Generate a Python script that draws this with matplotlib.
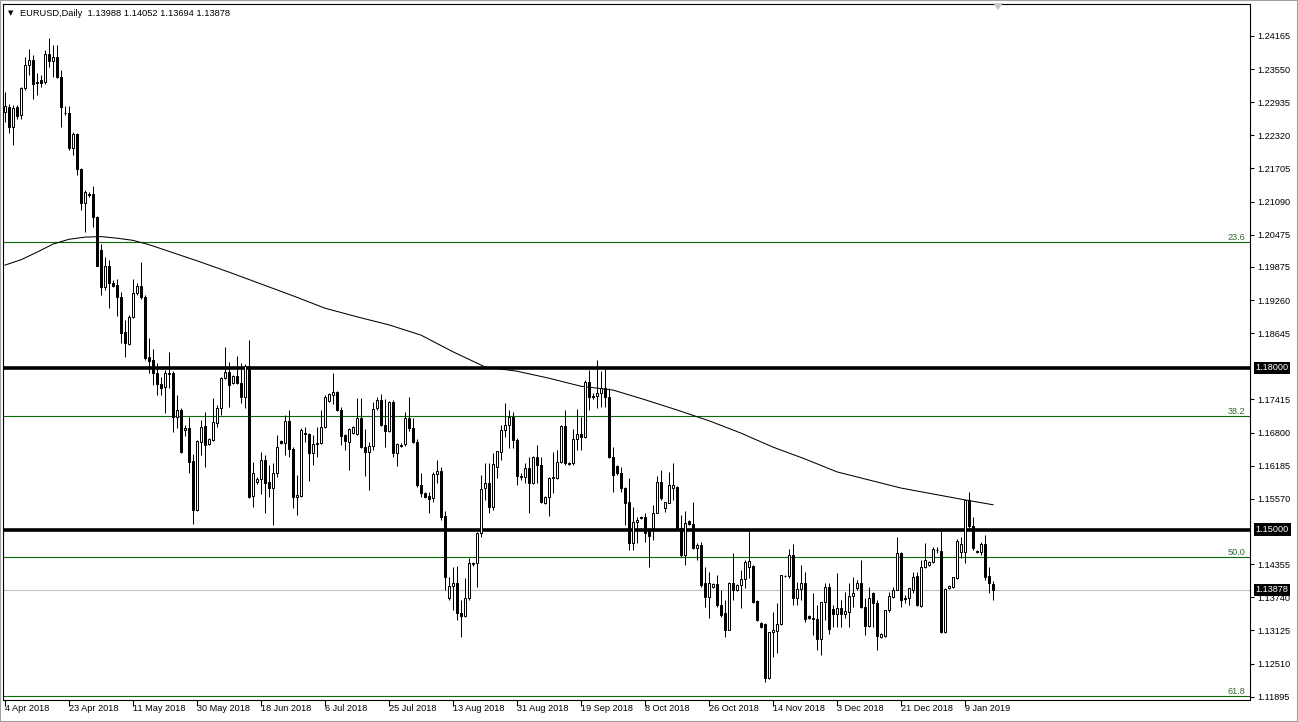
import numpy as np
import matplotlib
matplotlib.use('Agg')
import matplotlib.pyplot as plt
from matplotlib.patches import Polygon, Rectangle

plt.rcParams['font.family'] = ['Liberation Sans', 'DejaVu Sans']

# daily EURUSD candles, 4 Apr 2018 .. 17 Jan 2019 (broker with Sunday bars)
opens = [
    1.2276, 1.2285, 1.2247, 1.2284, 1.2269, 1.2319, 1.2362, 1.2372, 1.2331, 1.2334,
    1.2331, 1.2383, 1.2370, 1.2377, 1.2341, 1.2274, 1.2273, 1.2208, 1.2235, 1.2169,
    1.2107, 1.2123, 1.2123, 1.2081, 1.2019, 1.1950, 1.1989, 1.1957, 1.1954, 1.1932,
    1.1867, 1.1844, 1.1895, 1.1940, 1.1952, 1.1932, 1.1821, 1.1815, 1.1791, 1.1771,
    1.1764, 1.1788, 1.1790, 1.1709, 1.1722, 1.1685, 1.1688, 1.1627, 1.1536, 1.1662,
    1.1692, 1.1659, 1.1666, 1.1698, 1.1725, 1.1781, 1.1792, 1.1772, 1.1785, 1.1772,
    1.1746, 1.1803, 1.1562, 1.1588, 1.1594, 1.1629, 1.1588, 1.1577, 1.1605, 1.1664,
    1.1660, 1.1701, 1.1649, 1.1560, 1.1562, 1.1679, 1.1677, 1.1642, 1.1659, 1.1660,
    1.1690, 1.1739, 1.1750, 1.1755, 1.1722, 1.1675, 1.1662, 1.1679, 1.1677, 1.1707,
    1.1653, 1.1644, 1.1655, 1.1725, 1.1740, 1.1694, 1.1683, 1.1737, 1.1642, 1.1655,
    1.1659, 1.1707, 1.1688, 1.1662, 1.1583, 1.1568, 1.1562, 1.1558, 1.1603, 1.1609,
    1.1525, 1.1373, 1.1395, 1.1401, 1.1345, 1.1339, 1.1373, 1.1436, 1.1438, 1.1493,
    1.1577, 1.1586, 1.1542, 1.1616, 1.1644, 1.1685, 1.1694, 1.1709, 1.1666, 1.1599,
    1.1598, 1.1614, 1.1586, 1.1635, 1.1620, 1.1549, 1.1560, 1.1596, 1.1596, 1.1625,
    1.1692, 1.1623, 1.1623, 1.1668, 1.1677, 1.1672, 1.1774, 1.1748, 1.1748, 1.1753,
    1.1763, 1.1746, 1.1635, 1.1618, 1.1605, 1.1577, 1.1551, 1.1475, 1.1514, 1.1523,
    1.1523, 1.1497, 1.1503, 1.1530, 1.1588, 1.1540, 1.1549, 1.1577, 1.1579, 1.1503,
    1.1453, 1.1516, 1.1510, 1.1466, 1.1471, 1.1401, 1.1375, 1.1393, 1.1399, 1.1360,
    1.1345, 1.1313, 1.1401, 1.1388, 1.1397, 1.1408, 1.1431, 1.1432, 1.1367, 1.1326,
    1.1324, 1.1224, 1.1310, 1.1311, 1.1324, 1.1414, 1.1414, 1.1453, 1.1373, 1.1390,
    1.1401, 1.1339, 1.1336, 1.1334, 1.1297, 1.1365, 1.1393, 1.1352, 1.1343, 1.1354,
    1.1343, 1.1347, 1.1376, 1.1391, 1.1401, 1.1356, 1.1321, 1.1382, 1.1363, 1.1300,
    1.1302, 1.1350, 1.1375, 1.1388, 1.1456, 1.1373, 1.1373, 1.1388, 1.1414, 1.1358,
    1.1430, 1.1434, 1.1440, 1.1462, 1.1460, 1.1310, 1.1391, 1.1393, 1.1410, 1.1458,
    1.1458, 1.1555, 1.1506, 1.1460, 1.1458, 1.1473, 1.1414, 1.13988,
]
highs = [
    1.2313, 1.2290, 1.2288, 1.2288, 1.2322, 1.2378, 1.2393, 1.2381, 1.2347, 1.2344,
    1.2390, 1.2412, 1.2399, 1.2399, 1.2353, 1.2286, 1.2286, 1.2238, 1.2237, 1.2171,
    1.2131, 1.2127, 1.2138, 1.2082, 1.2031, 1.2006, 1.2000, 1.1963, 1.1966, 1.1941,
    1.1889, 1.1898, 1.1966, 1.1957, 1.1997, 1.1935, 1.1855, 1.1836, 1.1809, 1.1784,
    1.1796, 1.1830, 1.1795, 1.1750, 1.1725, 1.1694, 1.1709, 1.1640, 1.1666, 1.1703,
    1.1718, 1.1670, 1.1744, 1.1731, 1.1783, 1.1839, 1.1811, 1.1787, 1.1822, 1.1809,
    1.1807, 1.1852, 1.1625, 1.1597, 1.1644, 1.1638, 1.1620, 1.1623, 1.1675, 1.1666,
    1.1712, 1.1722, 1.1653, 1.1601, 1.1688, 1.1690, 1.1679, 1.1675, 1.1690, 1.1722,
    1.1750, 1.1753, 1.1790, 1.1757, 1.1727, 1.1677, 1.1688, 1.1692, 1.1744, 1.1744,
    1.1686, 1.1662, 1.1737, 1.1746, 1.1752, 1.1742, 1.1738, 1.1740, 1.1660, 1.1660,
    1.1718, 1.1746, 1.1707, 1.1668, 1.1605, 1.1570, 1.1570, 1.1607, 1.1629, 1.1616,
    1.1534, 1.1412, 1.1430, 1.1432, 1.1369, 1.1410, 1.1447, 1.1440, 1.1495, 1.1601,
    1.1623, 1.1623, 1.1642, 1.1646, 1.1694, 1.1735, 1.1722, 1.1718, 1.1670, 1.1605,
    1.1623, 1.1635, 1.1636, 1.1657, 1.1635, 1.1562, 1.1597, 1.1644, 1.1648, 1.1694,
    1.1722, 1.1625, 1.1686, 1.1724, 1.1709, 1.1778, 1.1796, 1.1753, 1.1815, 1.1794,
    1.1800, 1.1763, 1.1653, 1.1620, 1.1616, 1.1579, 1.1596, 1.1542, 1.1523, 1.1525,
    1.1531, 1.1503, 1.1545, 1.1599, 1.1610, 1.1551, 1.1607, 1.1623, 1.1581, 1.1527,
    1.1534, 1.1518, 1.1551, 1.1475, 1.1477, 1.1430, 1.1421, 1.1401, 1.1415, 1.1388,
    1.1369, 1.1403, 1.1456, 1.1399, 1.1425, 1.1443, 1.1499, 1.1434, 1.1369, 1.1328,
    1.1326, 1.1310, 1.1347, 1.1363, 1.1416, 1.1416, 1.1464, 1.1473, 1.1403, 1.1434,
    1.1421, 1.1341, 1.1382, 1.1360, 1.1365, 1.1401, 1.1401, 1.1360, 1.1419, 1.1369,
    1.1384, 1.1401, 1.1412, 1.1406, 1.1443, 1.1373, 1.1393, 1.1384, 1.1369, 1.1308,
    1.1350, 1.1384, 1.1393, 1.1486, 1.1458, 1.1378, 1.1391, 1.1421, 1.1421, 1.1443,
    1.1475, 1.1441, 1.1467, 1.1467, 1.1499, 1.1391, 1.1397, 1.1412, 1.1482, 1.1486,
    1.1555, 1.1570, 1.1523, 1.1462, 1.1477, 1.1490, 1.1430, 1.14052,
]
lows = [
    1.2257, 1.2236, 1.2214, 1.2263, 1.2262, 1.2316, 1.2344, 1.2299, 1.2307, 1.2322,
    1.2328, 1.2359, 1.2341, 1.2338, 1.2248, 1.2269, 1.2204, 1.2195, 1.2158, 1.2093,
    1.2053, 1.2118, 1.2062, 1.1989, 1.1935, 1.1945, 1.1911, 1.1951, 1.1896, 1.1846,
    1.1821, 1.1842, 1.1892, 1.1935, 1.1929, 1.1815, 1.1790, 1.1768, 1.1750, 1.1750,
    1.1716, 1.1763, 1.1681, 1.1688, 1.1642, 1.1674, 1.1605, 1.1510, 1.1534, 1.1638,
    1.1616, 1.1657, 1.1664, 1.1690, 1.1712, 1.1779, 1.1727, 1.1770, 1.1770, 1.1735,
    1.1725, 1.1558, 1.1542, 1.1584, 1.1566, 1.1530, 1.1560, 1.1508, 1.1597, 1.1659,
    1.1638, 1.1634, 1.1540, 1.1527, 1.1560, 1.1662, 1.1590, 1.1620, 1.1634, 1.1659,
    1.1688, 1.1737, 1.1733, 1.1720, 1.1657, 1.1648, 1.1610, 1.1677, 1.1675, 1.1651,
    1.1599, 1.1573, 1.1648, 1.1722, 1.1692, 1.1653, 1.1681, 1.1634, 1.1618, 1.1653,
    1.1655, 1.1683, 1.1660, 1.1579, 1.1560, 1.1558, 1.1530, 1.1551, 1.1586, 1.1518,
    1.1387, 1.1369, 1.1350, 1.1332, 1.1300, 1.1337, 1.1369, 1.1432, 1.1393, 1.1486,
    1.1555, 1.1530, 1.1536, 1.1596, 1.1629, 1.1672, 1.1651, 1.1651, 1.1583, 1.1592,
    1.1586, 1.1530, 1.1584, 1.1586, 1.1549, 1.1547, 1.1525, 1.1568, 1.1594, 1.1623,
    1.1620, 1.1619, 1.1620, 1.1648, 1.1648, 1.1670, 1.1722, 1.1742, 1.1725, 1.1727,
    1.1727, 1.1633, 1.1570, 1.1601, 1.1570, 1.1508, 1.1462, 1.1462, 1.1475, 1.1519,
    1.1477, 1.1430, 1.1480, 1.1530, 1.1555, 1.1532, 1.1549, 1.1555, 1.1503, 1.1449,
    1.1434, 1.1508, 1.1464, 1.1443, 1.1393, 1.1356, 1.1336, 1.1391, 1.1356, 1.1337,
    1.1300, 1.1313, 1.1369, 1.1386, 1.1354, 1.1391, 1.1410, 1.1364, 1.1330, 1.1317,
    1.1217, 1.1222, 1.1263, 1.1271, 1.1322, 1.1412, 1.1410, 1.1360, 1.1360, 1.1369,
    1.1328, 1.1334, 1.1304, 1.1276, 1.1267, 1.1332, 1.1306, 1.1319, 1.1319, 1.1319,
    1.1336, 1.1319, 1.1356, 1.1388, 1.1354, 1.1304, 1.1319, 1.1319, 1.1276, 1.1298,
    1.1300, 1.1347, 1.1373, 1.1388, 1.1356, 1.1363, 1.1360, 1.1382, 1.1358, 1.1356,
    1.1428, 1.1432, 1.1438, 1.1456, 1.1308, 1.1308, 1.1389, 1.1391, 1.1408, 1.1447,
    1.1438, 1.1501, 1.1462, 1.1456, 1.1453, 1.1406, 1.1382, 1.13694,
]
closes = [
    1.2286, 1.2248, 1.2282, 1.2268, 1.2319, 1.2362, 1.2372, 1.2328, 1.2329, 1.2330,
    1.2383, 1.2370, 1.2377, 1.2341, 1.2285, 1.2273, 1.2208, 1.2235, 1.2169, 1.2107,
    1.2127, 1.2122, 1.2081, 1.1990, 1.1950, 1.1989, 1.1957, 1.1953, 1.1932, 1.1865,
    1.1846, 1.1895, 1.1940, 1.1952, 1.1932, 1.1818, 1.1813, 1.1790, 1.1770, 1.1762,
    1.1791, 1.1791, 1.1709, 1.1722, 1.1644, 1.1688, 1.1625, 1.1536, 1.1664, 1.1690,
    1.1657, 1.1668, 1.1699, 1.1725, 1.1781, 1.1792, 1.1768, 1.1785, 1.1772, 1.1746,
    1.1803, 1.1560, 1.1605, 1.1594, 1.1629, 1.1586, 1.1577, 1.1605, 1.1653, 1.1660,
    1.1701, 1.1649, 1.1560, 1.1564, 1.1685, 1.1677, 1.1642, 1.1659, 1.1660, 1.1690,
    1.1746, 1.1752, 1.1755, 1.1722, 1.1674, 1.1664, 1.1686, 1.1690, 1.1707, 1.1653,
    1.1644, 1.1655, 1.1724, 1.1740, 1.1694, 1.1683, 1.1737, 1.1642, 1.1659, 1.1657,
    1.1707, 1.1688, 1.1662, 1.1583, 1.1568, 1.1560, 1.1557, 1.1603, 1.1609, 1.1523,
    1.1412, 1.1395, 1.1401, 1.1345, 1.1339, 1.1373, 1.1438, 1.1438, 1.1493, 1.1575,
    1.1586, 1.1542, 1.1622, 1.1646, 1.1685, 1.1694, 1.1709, 1.1666, 1.1599, 1.1598,
    1.1614, 1.1586, 1.1635, 1.1620, 1.1551, 1.1560, 1.1596, 1.1598, 1.1625, 1.1692,
    1.1623, 1.1621, 1.1668, 1.1677, 1.1672, 1.1774, 1.1746, 1.1746, 1.1753, 1.1763,
    1.1746, 1.1635, 1.1601, 1.1605, 1.1577, 1.1549, 1.1475, 1.1514, 1.1518, 1.1521,
    1.1493, 1.1488, 1.1530, 1.1588, 1.1558, 1.1551, 1.1583, 1.1583, 1.1503, 1.1453,
    1.1512, 1.1510, 1.1466, 1.1471, 1.1397, 1.1375, 1.1401, 1.1399, 1.1360, 1.1341,
    1.1313, 1.1401, 1.1388, 1.1397, 1.1408, 1.1440, 1.1442, 1.1365, 1.1332, 1.1319,
    1.1224, 1.1310, 1.1313, 1.1324, 1.1416, 1.1414, 1.1453, 1.1373, 1.1390, 1.1401,
    1.1334, 1.1336, 1.1334, 1.1297, 1.1365, 1.1393, 1.1315, 1.1343, 1.1354, 1.1343,
    1.1349, 1.1376, 1.1382, 1.1401, 1.1356, 1.1321, 1.1373, 1.1363, 1.1302, 1.1306,
    1.1350, 1.1376, 1.1388, 1.1456, 1.1369, 1.1371, 1.1391, 1.1412, 1.1360, 1.1430,
    1.1443, 1.1440, 1.1464, 1.1462, 1.1310, 1.1390, 1.1395, 1.1412, 1.1479, 1.1473,
    1.1555, 1.1506, 1.1466, 1.1458, 1.1473, 1.1412, 1.1401, 1.13878,
]

# moving average at a few bars
ma_bars = [0, 4, 8, 12, 16, 20, 24, 28, 32, 36, 40, 48, 56, 64, 72, 80, 88, 96, 104,
           112, 120, 128, 136, 144, 152, 160, 168, 176, 184, 192, 200, 208, 216, 224,
           232, 240, 247]
ma_vals = [1.1991, 1.2001, 1.2015, 1.2030, 1.2039, 1.2043, 1.2044, 1.2041, 1.2037,
           1.2029, 1.2019, 1.1999, 1.1978, 1.1956, 1.1934, 1.1911, 1.1895, 1.1880,
           1.1861, 1.1830, 1.1802, 1.1794, 1.1781, 1.1766, 1.1759, 1.1741, 1.1722,
           1.1702, 1.1679, 1.1653, 1.1631, 1.1607, 1.1592, 1.1577, 1.1566, 1.1555,
           1.1546]

levels = [1.18000, 1.15000]
fib_levels = [1.2033, 1.1710, 1.1449, 1.1190]
fib_names = ['23.6', '38.2', '50.0', '61.8']

date_labels = ['4 Apr 2018', '23 Apr 2018', '11 May 2018', '30 May 2018', '18 Jun 2018',
               '6 Jul 2018', '25 Jul 2018', '13 Aug 2018', '31 Aug 2018', '19 Sep 2018',
               '8 Oct 2018', '26 Oct 2018', '14 Nov 2018', '3 Dec 2018', '21 Dec 2018',
               '9 Jan 2019']
price_ticks = [1.24165, 1.23550, 1.22935, 1.22320, 1.21705, 1.21090, 1.20475,
               1.19875, 1.19260, 1.18645, 1.17415, 1.16800, 1.16185,
               1.15570, 1.14355, 1.13740, 1.13125, 1.12510, 1.11895]

o = np.array(opens)
h = np.array(highs)
l = np.array(lows)
c = np.array(closes)
idx = np.arange(len(o))

W, H = 1298, 722
fig = plt.figure(figsize=(W / 100, H / 100), dpi=100, facecolor='white')
ax = fig.add_axes([3 / W, 22 / H, 1247 / W, 696 / H])
ax.set_facecolor('white')

# horizontal lines
for lv in levels:
    ax.axhline(lv, color='black', lw=2.6, zorder=2)
for lv, nm in zip(fib_levels, fib_names):
    ax.axhline(lv, color='#0b6b0b', lw=0.8, zorder=1)
    ax.text(1245.5 / 4 - 1.25, lv, nm, fontsize=6.6, color='#2f6b2f',
            ha='right', va='bottom')
ax.axhline(c[-1], color='#c0c0c0', lw=0.8, zorder=1)

# moving average
ax.plot(ma_bars, ma_vals, color='black', lw=0.75, zorder=2)

# candles: 1px wicks, 3px bodies (white for up days)
up = c >= o
ax.vlines(idx, l, h, color='black', lw=0.72, zorder=3)
ax.bar(idx, np.abs(c - o), bottom=np.minimum(o, c), width=0.5,
       color=np.where(up, 'white', 'black'), edgecolor='black', linewidth=0.72,
       zorder=4)

ax.set_xlim(-0.5, 311.25)
ax.set_ylim(1.11834, 1.24759)

ax.yaxis.tick_right()
ax.set_yticks(price_ticks)
ax.set_yticklabels([f'{t:.5f}' for t in price_ticks])
ax.tick_params(axis='y', length=3, width=0.8, pad=2, labelsize=6.6, direction='out')

ax.set_xticks(np.arange(len(date_labels)) * 16)
ax.set_xticklabels(date_labels, ha='left')
ax.tick_params(axis='x', length=4, width=0.8, pad=-1, labelsize=6.6, direction='out')
for sp in ax.spines.values():
    sp.set_linewidth(0.8)
    sp.set_color('black')

# price labels on the scale
for lv in levels + [c[-1]]:
    ax.text(1.0045, lv, f'{lv:.5f}', transform=ax.get_yaxis_transform(),
            fontsize=6.6, color='white', ha='left', va='center', zorder=10,
            bbox=dict(boxstyle='square,pad=0.18', fc='black', ec='none'))

# header
fig.text(8 / W, 1 - 13 / H, '\u25bc', fontsize=5, color='black', va='center',
         family='DejaVu Sans')
fig.text(20 / W, 1 - 13 / H,
         f'EURUSD,Daily  {opens[-1]:.5f} {highs[-1]:.5f} {lows[-1]:.5f} {closes[-1]:.5f}',
         fontsize=6.7, color='black', va='center')

# chart shift marker and window border
fig.patches.append(Polygon([(993 / W, 1 - 3 / H), (1003 / W, 1 - 3 / H), (998 / W, 1 - 10 / H)],
                           closed=True, transform=fig.transFigure, fc='#c8c8c8', ec='none'))
fig.patches.append(Rectangle((0, 0), 1, 1, transform=fig.transFigure, fill=False,
                             ec='#a0a0a0', lw=1.5))

fig.savefig('out.png', dpi=100, facecolor='white')
